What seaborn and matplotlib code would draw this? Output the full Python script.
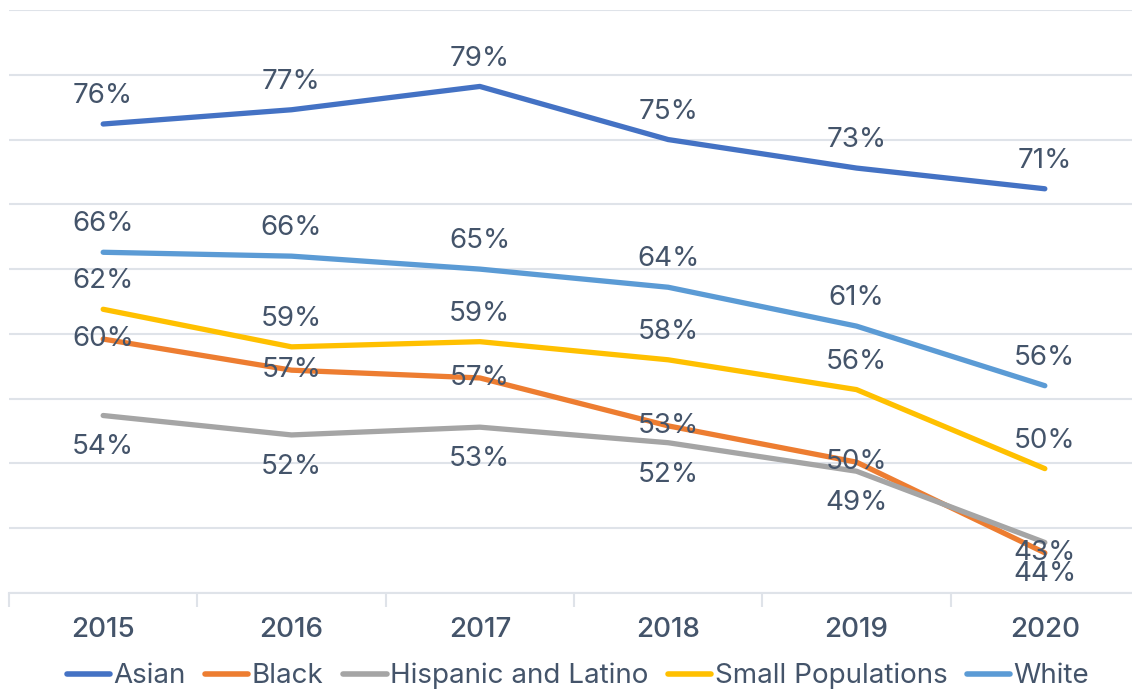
import matplotlib
matplotlib.use("Agg")
import matplotlib.pyplot as plt
import pandas as pd
import seaborn as sns

# Data (percent)
years = [2015, 2016, 2017, 2018, 2019, 2020]
asian = [76.2, 77.3, 79.1, 75.0, 72.8, 71.2]
black = [59.6, 57.2, 56.6, 52.9, 50.1, 43.1]
hispanic = [53.7, 52.2, 52.8, 51.6, 49.4, 43.9]
small_pop = [61.9, 59.0, 59.4, 58.0, 55.7, 49.6]
white = [66.3, 66.0, 65.0, 63.6, 60.6, 56.0]

series = ["Asian", "Black", "Hispanic and Latino", "Small Populations", "White"]
colors = ["#4472C4", "#ED7D31", "#A5A5A5", "#FFC000", "#5B9BD5"]
label_pos = ["above", "center", "below", "above", "above"]

df = pd.DataFrame({
    "year": years * 5,
    "value": asian + black + hispanic + small_pop + white,
    "group": [s for s in series for _ in years],
})

sns.set_theme(style="white")
plt.rcParams["font.family"] = ["Inter", "DejaVu Sans"]
text_color = "#44546A"
grid_color = "#DFE3E9"
fs = 20

fig = plt.figure(figsize=(11.32, 6.92), dpi=100)
ax = fig.add_axes([9 / 1132, 99 / 692, 1130 / 1132, 583 / 692])

sns.lineplot(data=df, x="year", y="value", hue="group", palette=colors,
             hue_order=series, linewidth=3.8, ax=ax, legend=True)
for line in ax.lines:
    line.set_solid_capstyle("round")
    line.set_solid_joinstyle("round")

# Data labels
offsets = {"above": 20, "center": 0, "below": -23}
for s, pos in zip(series, label_pos):
    sub = df[df.group == s]
    for x, v in zip(sub.year, sub.value):
        ax.annotate(f"{round(v):.0f}%", (x, v), xytext=(0, offsets[pos]),
                    textcoords="offset points", ha="center", va="center",
                    fontsize=fs, color=text_color)

ax.set_xlim(2014.5, 2020.5)
ax.set_ylim(40, 85)
ax.set_yticks(range(40, 86, 5))
ax.yaxis.grid(True, color=grid_color, linewidth=1.5)
ax.tick_params(axis="y", left=False, labelleft=False)
ax.set_xticks(years)
ax.set_xticklabels([str(y) for y in years], fontsize=fs, color=text_color,
                   fontweight="medium")
ax.set_xticks([y - 0.5 for y in years] + [2020.5], minor=True)
ax.tick_params(axis="x", which="major", length=0, pad=17)
ax.tick_params(axis="x", which="minor", length=10, width=1.5, color=grid_color,
               bottom=True)
for side in ["left", "right", "top"]:
    ax.spines[side].set_visible(False)
ax.spines["bottom"].set_color(grid_color)
ax.spines["bottom"].set_linewidth(1.5)
ax.set_xlabel("")
ax.set_ylabel("")

handles, labels = ax.get_legend_handles_labels()
ax.get_legend().remove()
leg = fig.legend(handles, labels, loc="center", ncol=5, frameon=False,
                 bbox_to_anchor=(578 / 1132, 1 - 676 / 692),
                 fontsize=fs, handlelength=1.55, handletextpad=0.12,
                 columnspacing=0.72, labelcolor=text_color)
for h in leg.legend_handles:
    h.set_linewidth(4)
    h.set_solid_capstyle("round")

fig.savefig("out.png", dpi=100)
